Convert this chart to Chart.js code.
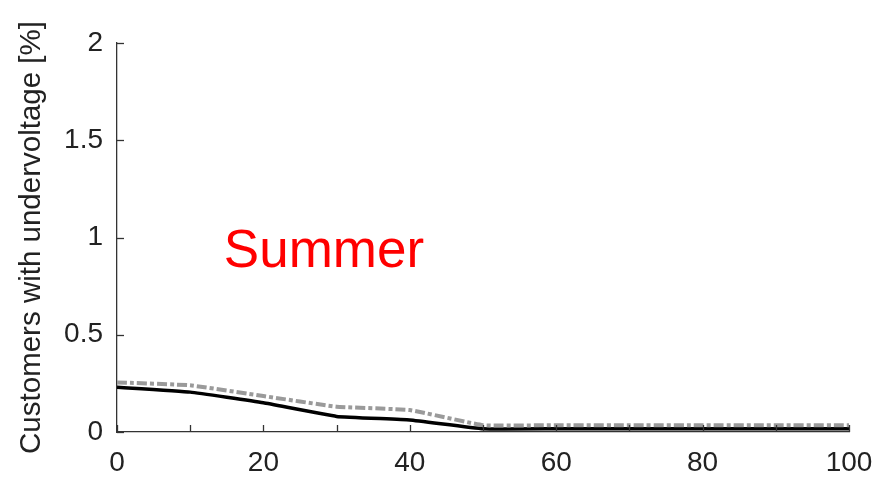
<!DOCTYPE html>
<html>
<head>
<meta charset="utf-8">
<script src="https://cdn.jsdelivr.net/npm/chart.js@4.4.0/dist/chart.umd.min.js"></script>
<style>
    html, body { margin: 0; padding: 0; background: #fff; }
    #wrap { width: 875px; height: 477px; }
</style>
</head>
<body>
<div id="wrap"><canvas id="myChart" width="875" height="477"></canvas></div>
<script>
// share of something (x axis, %) vs customers with undervoltage (%)
const xValues = [0, 10, 20, 30, 40, 50, 60, 70, 80, 90, 100];
const solidSeries = [0.23, 0.205, 0.15, 0.08, 0.062, 0.017, 0.017, 0.017, 0.017, 0.017, 0.017];
const dashedSeries = [0.255, 0.24, 0.185, 0.13, 0.113, 0.035, 0.035, 0.035, 0.035, 0.035, 0.035];
const yTicks = [0, 0.5, 1, 1.5, 2];
const yTickLabels = ['0', '0.5', '1', '1.5', '2'];
const seasonLabel = 'Summer';
const yTitle = 'Customers with undervoltage [%]';

const toPoints = (values) => values.map((v, i) => ({ x: xValues[i], y: v }));

// MATLAB style: tick marks drawn inward
const innerTicks = {
    id: 'innerTicks',
    afterDraw(chart) {
        const ctx = chart.ctx;
        const xScale = chart.scales.x;
        const yScale = chart.scales.y;
        const area = chart.chartArea;
        ctx.save();
        ctx.strokeStyle = '#333';
        ctx.lineWidth = 1.3;
        xScale.ticks.forEach(t => {
            const px = Math.round(xScale.getPixelForValue(t.value)) + 0.5;
            ctx.beginPath();
            ctx.moveTo(px, area.bottom);
            ctx.lineTo(px, area.bottom - 7);
            ctx.stroke();
        });
        yScale.ticks.forEach(t => {
            const py = Math.round(yScale.getPixelForValue(t.value)) + 0.5;
            ctx.beginPath();
            ctx.moveTo(area.left, py);
            ctx.lineTo(area.left + 7, py);
            ctx.stroke();
        });

        // season label
        ctx.fillStyle = '#ff0000';
        ctx.font = '53px "Liberation Sans", Arial, sans-serif';
        ctx.textAlign = 'left';
        ctx.textBaseline = 'alphabetic';
        ctx.fillText(seasonLabel, xScale.getPixelForValue(14.6), yScale.getPixelForValue(0.85));
        ctx.restore();
    }
};

const ctx = document.getElementById('myChart').getContext('2d');
const myChart = new Chart(ctx, {
    type: 'line',
    data: {
        datasets: [
            {
                label: 'dashed',
                data: toPoints(dashedSeries),
                borderColor: '#9a9a9a',
                borderWidth: 4,
                borderDash: [10, 3, 4, 3],
                pointRadius: 0,
                fill: false,
                tension: 0.1
            },
            {
                label: 'solid',
                data: toPoints(solidSeries),
                borderColor: '#000',
                borderWidth: 3.5,
                pointRadius: 0,
                fill: false,
                tension: 0.1
            }
        ]
    },
    options: {
        responsive: false,
        animation: false,
        layout: {
            padding: { top: 43, right: 26, left: 0, bottom: 0 }
        },
        plugins: {
            legend: { display: false },
            tooltip: { enabled: false }
        },
        scales: {
            x: {
                type: 'linear',
                min: 0,
                max: 100,
                grid: { display: false, drawTicks: false },
                border: { display: true, color: '#333', width: 1.3 },
                ticks: {
                    stepSize: 10,
                    autoSkip: false,
                    maxRotation: 0,
                    padding: 14,
                    color: '#222',
                    font: { family: '"Liberation Sans", Arial, sans-serif', size: 28 },
                    callback: (v) => (v % 20 === 0 ? String(v) : '')
                },
                afterFit: (scale) => {
                    scale.height = 45;
                    scale.paddingLeft = 0;
                    scale.paddingRight = 0;
                }
            },
            y: {
                min: 0,
                max: 2,
                grid: { display: false, drawTicks: false },
                border: { display: true, color: '#333', width: 1.3 },
                afterBuildTicks: (scale) => { scale.ticks = yTicks.map(v => ({ value: v })); },
                ticks: {
                    padding: 14,
                    color: '#222',
                    font: { family: '"Liberation Sans", Arial, sans-serif', size: 28 },
                    callback: (v) => yTickLabels[yTicks.indexOf(v)]
                },
                title: {
                    display: true,
                    text: yTitle,
                    color: '#222',
                    padding: { top: 14, bottom: 0 },
                    font: { family: '"Liberation Sans", Arial, sans-serif', size: 29.5 }
                },
                afterFit: (scale) => {
                    scale.width = 117;
                    scale.paddingTop = 0;
                    scale.paddingBottom = 0;
                }
            }
        }
    },
    plugins: [innerTicks]
});
</script>
</body>
</html>
